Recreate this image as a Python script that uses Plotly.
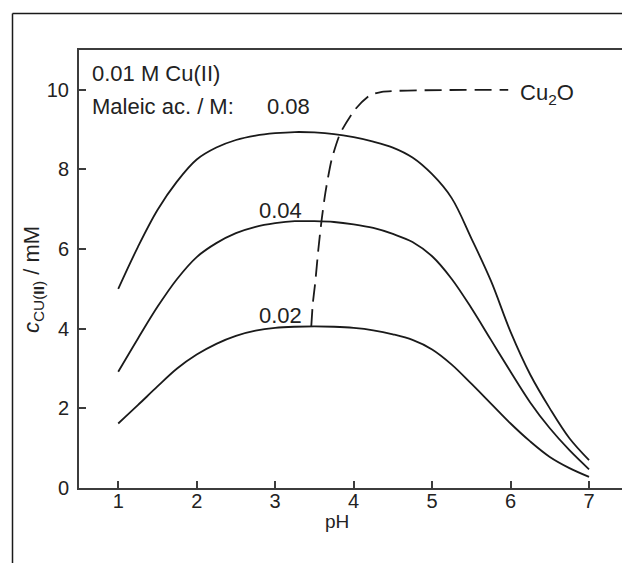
import plotly.graph_objects as go

# Cu(II) concentration vs pH for three maleic acid concentrations (M)
ph_grid = [1.0, 1.25, 1.5, 1.75, 2.0, 2.25, 2.5, 2.75, 3.0, 3.25, 3.5, 3.75, 4.0,
           4.25, 4.5, 4.75, 5.0, 5.25, 5.5, 5.75, 6.0, 6.25, 6.5, 6.75, 7.0]
c_008 = [5.0, 6.05, 6.98, 7.7, 8.25, 8.55, 8.74, 8.85, 8.91, 8.94, 8.93, 8.89, 8.81,
         8.7, 8.55, 8.3, 7.88, 7.28, 6.27, 5.2, 3.92, 2.85, 2.0, 1.25, 0.70]
c_004 = [2.92, 3.75, 4.55, 5.25, 5.8, 6.15, 6.4, 6.56, 6.65, 6.70, 6.70, 6.68, 6.62,
         6.53, 6.38, 6.18, 5.82, 5.25, 4.52, 3.72, 2.92, 2.15, 1.5, 0.95, 0.47]
c_002 = [1.62, 2.08, 2.55, 3.0, 3.35, 3.62, 3.82, 3.95, 4.02, 4.05, 4.06, 4.05, 4.02,
         3.96, 3.86, 3.72, 3.48, 3.1, 2.62, 2.12, 1.62, 1.17, 0.78, 0.5, 0.28]

# Cu2O precipitation boundary
ph_cu2o = [3.46, 3.48, 3.51, 3.55, 3.59, 3.64, 3.72, 3.83, 4.02, 4.2, 4.36, 5.97]
c_cu2o = [4.06, 4.64, 5.15, 5.99, 6.70, 7.42, 8.25, 8.91, 9.51, 9.85, 9.95, 10.0]

x_ticks = [1, 2, 3, 4, 5, 6, 7]
y_ticks = [0, 2, 4, 6, 8, 10]

INK = "#1a1a1a"
AXIS = "#3c3c3c"
FONT = "Liberation Sans, Arial, sans-serif"

fig = go.Figure()
for ys in [c_008, c_004, c_002]:
    fig.add_trace(go.Scatter(x=ph_grid, y=ys, mode="lines",
                             line=dict(color=INK, width=1.8, shape="spline", smoothing=1.0),
                             showlegend=False, hoverinfo="skip"))
fig.add_trace(go.Scatter(x=ph_cu2o, y=c_cu2o, mode="lines",
                         line=dict(color=INK, width=1.8, dash="17px,8px", shape="spline", smoothing=0.6),
                         showlegend=False, hoverinfo="skip"))

W, H = 622, 563
L, T, B = 79, 50, 75
pw, ph_ = W - L, H - T - B


def px_x(p):
    return (p - L) / pw


def px_y(p):
    return (H - B - p) / ph_


annots = [
    dict(text="0.01 M Cu(II)", x=0.641, y=10.42, xanchor="left"),
    dict(text="Maleic ac. / M:", x=0.641, y=9.59, xanchor="left"),
    dict(text="0.08", x=2.871, y=9.59, xanchor="left"),
    dict(text="0.04", x=2.769, y=6.97, xanchor="left"),
    dict(text="0.02", x=2.769, y=4.34, xanchor="left"),
    dict(text="Cu<sub>2</sub>O", x=6.097, y=9.90, xanchor="left"),
]
for a in annots:
    fig.add_annotation(xref="x", yref="y", yanchor="middle", showarrow=False,
                       font=dict(size=22, color="#222", family=FONT), **a)

# axis titles
fig.add_annotation(xref="paper", yref="paper", x=px_x(33), y=px_y(280),
                   text="<i>c</i><sub>CU(<b>II</b>)</sub> / mM", textangle=-90,
                   showarrow=False, xanchor="center", yanchor="middle",
                   font=dict(size=22, color="#222", family=FONT))
fig.add_annotation(xref="paper", yref="paper", x=px_x(337), y=px_y(521),
                   text="pH", showarrow=False, xanchor="center", yanchor="middle",
                   font=dict(size=19, color="#222", family=FONT))

# outer frame lines
fig.add_shape(type="line", xref="paper", yref="paper",
              x0=px_x(12.5), x1=px_x(W + 5), y0=px_y(13.5), y1=px_y(13.5),
              line=dict(color=INK, width=1.5))
fig.add_shape(type="line", xref="paper", yref="paper",
              x0=px_x(12.5), x1=px_x(12.5), y0=px_y(13.5), y1=px_y(H + 5),
              line=dict(color=INK, width=1.5))

fig.update_layout(
    width=W, height=H,
    margin=dict(l=L, r=0, t=T, b=B),
    paper_bgcolor="white", plot_bgcolor="white",
    font=dict(family=FONT, size=20, color="#222"),
    showlegend=False,
)
fig.update_xaxes(range=[0.5, 7.42], tickvals=x_ticks, ticks="inside", ticklen=7,
                 tickwidth=1.5, tickcolor=AXIS, showline=True, linecolor=AXIS,
                 linewidth=2, mirror=True, showgrid=False, zeroline=False,
                 ticklabelstandoff=-6, tickfont=dict(size=20, color="#222"))
fig.update_yaxes(range=[0, 11], tickvals=y_ticks, ticks="inside", ticklen=7,
                 tickwidth=1.5, tickcolor=AXIS, showline=True, linecolor=AXIS,
                 linewidth=2, showgrid=False, zeroline=False,
                 ticklabelstandoff=4, tickfont=dict(size=20, color="#222"))

fig.write_html("out.html")
